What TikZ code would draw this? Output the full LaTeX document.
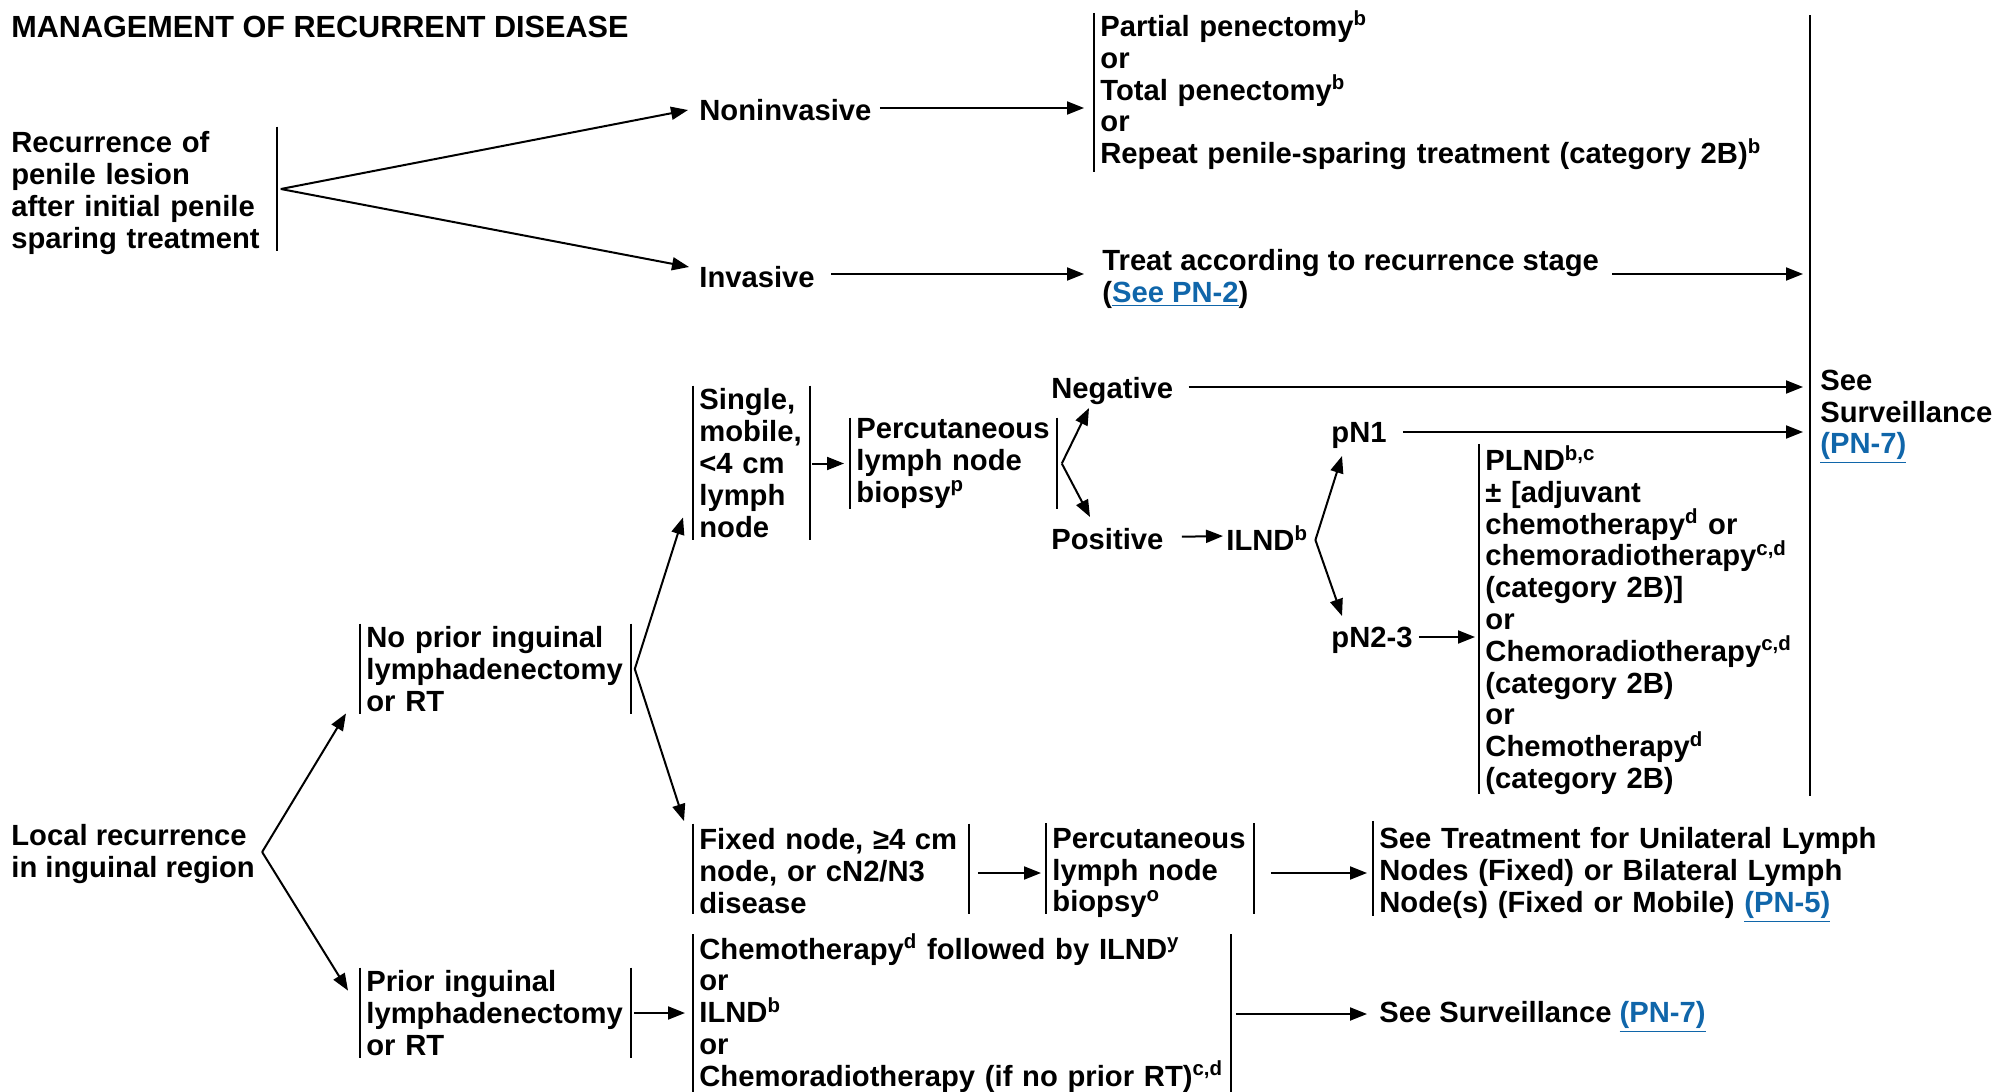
\documentclass[tikz,border=0pt]{standalone}
\usepackage{fontspec}
\setmainfont{Liberation Sans}
\usetikzlibrary{arrows.meta}
\definecolor{linkblue}{RGB}{16,102,170}
\newcommand\lnk[1]{\textcolor{linkblue}{\underline{#1}}}
\newcommand\sps[1]{\textsuperscript{#1}}
\begin{document}
\begin{tikzpicture}[x=0.5pt,y=-0.5pt,
  font=\fontsize{14.6}{15.9}\selectfont\bfseries,
  txt/.style={inner sep=0pt, anchor=west, align=left},
  blk/.style={inner xsep=3pt, inner ysep=0pt, anchor=west, align=left},
  arr/.style={-{Triangle[length=8.5pt,width=6.5pt]}, line width=1pt},
  bar/.style={line width=1pt}]
\useasboundingbox (0,0) rectangle (1997,1092);

% title
\node[txt, font=\fontsize{15.3}{16}\selectfont\bfseries] (title) at (11,27) {MANAGEMENT OF RECURRENT DISEASE};

% top part
\node[blk, text width=129.5pt, minimum height=62pt] (rec) at (5,193) {Recurrence of\\penile lesion\\after initial penile\\sparing treatment};
\draw[bar] ([yshift=2pt]rec.north east) -- ([yshift=2pt]rec.south east);
\coordinate (f1) at ([xshift=2pt,yshift=2pt]rec.east);

\node[txt] (noninv) at (699,110) {Noninvasive};
\node[txt] (inv) at (699,277) {Invasive};
\draw[arr] (f1) -- ([xshift=-5.5pt]noninv.west);
\draw[arr] (f1) -- ([xshift=-5pt,yshift=5pt]inv.west);

\node[blk, text width=340pt, minimum height=76.5pt] (opt) at (1094,90.5) {Partial penectomy\sps{b}\\or\\Total penectomy\sps{b}\\or\\Repeat penile-sparing treatment (category 2B)\sps{b}};
\draw[bar] ([yshift=-1pt]opt.north west) -- ([yshift=-1pt]opt.south west);
\draw[arr, shorten <=4pt, shorten >=5pt] ([yshift=1pt]noninv.east) -- ([yshift=1pt]opt.west |- noninv.east);

\node[txt] (treat) at (1102,279) {Treat according to recurrence stage\\(\lnk{See PN-2})};
\draw[arr, shorten <=8pt, shorten >=9pt] ([yshift=1.5pt]inv.east) -- ([yshift=1.5pt]treat.west |- inv.east);

% big bar and surveillance
\coordinate (bt) at (1810,15);
\coordinate (bb) at (1810,796);
\draw[bar] (bt) -- (bb);
\node[txt] (surv) at (1820,417) {See\\Surveillance\\\lnk{(PN-7)}};
\draw[arr, shorten <=6.5pt, shorten >=3.5pt] ([yshift=1.5pt]treat.east |- inv.east) -- ([yshift=1.5pt]bt |- inv.east);

% single node branch
\node[blk, text width=52pt, minimum height=77pt] (single) at (693,463) {Single,\\mobile,\\<4 cm\\lymph\\node};
\draw[bar] (single.north west) -- (single.south west) (single.north east) -- (single.south east);

\node[blk, text width=97pt, minimum height=45.5pt] (perc1) at (850,463.5) {Percutaneous\\lymph node\\biopsy\sps{p}};
\draw[bar] (perc1.north west) -- (perc1.south west) (perc1.north east) -- (perc1.south east);
\draw[arr, shorten <=1pt, shorten >=3pt] (single.east |- perc1.west) -- (perc1.west);
\coordinate (f2) at ([xshift=2.5pt]perc1.east);

\node[txt] (neg) at (1051,391) {Negative};
\node[txt] (pos) at (1051,539) {Positive};
\draw[arr] (f2) -- ([xshift=19pt,yshift=-8.5pt]neg.west);
\draw[arr] (f2) -- ([xshift=19.5pt,yshift=11pt]pos.west);
\draw[arr, shorten <=7.5pt, shorten >=3.5pt] ([yshift=2pt]neg.east) -- ([yshift=2pt]bt |- neg.east);

\node[txt] (ilnd) at (1226,538) {ILND\sps{b}};
\draw[arr, shorten <=9pt, shorten >=1.5pt] ([yshift=1pt]pos.east) -- ([yshift=1pt]ilnd.west);
\coordinate (f3) at ([xshift=3.5pt,yshift=-1pt]ilnd.east);

\node[txt] (pn1) at (1331,435) {pN1};
\node[txt] (pn23) at (1331,640) {pN2-3};
\draw[arr] (f3) -- ([xshift=5.5pt,yshift=-10.5pt]pn1.west);
\draw[arr] (f3) -- ([xshift=5.5pt,yshift=12pt]pn23.west);
\draw[arr, shorten <=8pt, shorten >=3.5pt] ([yshift=1.5pt]pn1.east) -- ([yshift=1.5pt]bt |- pn1.east);

\node[blk, text width=160pt, minimum height=173pt] (plnd) at (1479,620) {PLND\sps{b,c}\\± [adjuvant\\chemotherapy\sps{d} or\\chemoradiotherapy\sps{c,d}\\(category 2B)]\\or\\Chemoradiotherapy\sps{c,d}\\(category 2B)\\or\\Chemotherapy\sps{d}\\(category 2B)};
\draw[bar] ([yshift=0.5pt]plnd.north west) -- ([yshift=0.5pt]plnd.south west);
\draw[arr, shorten <=3pt, shorten >=2pt] ([yshift=1.5pt]pn23.east) -- ([yshift=1.5pt]plnd.west |- pn23.east);

% inguinal branch
\node[blk, text width=129pt, minimum height=45pt] (noprior) at (360,669) {No prior inguinal\\lymphadenectomy\\or RT};
\draw[bar] (noprior.north west) -- (noprior.south west) (noprior.north east) -- (noprior.south east);
\coordinate (f4) at ([xshift=2pt]noprior.east);

\node[blk, text width=131.5pt, minimum height=44.5pt] (fixed) at (693,871) {Fixed node, ≥4 cm\\node, or cN2/N3\\disease};
\draw[bar] ([yshift=1.2pt]fixed.north west) -- ([yshift=1.2pt]fixed.south west) ([yshift=1.2pt]fixed.north east) -- ([yshift=1.2pt]fixed.south east);

\draw[arr] (f4) -- ([xshift=-5pt,yshift=11.5pt]single.south west);
\draw[arr] (f4) -- ([xshift=-4.5pt,yshift=2.5pt]fixed.north west);

\node[txt] (loc) at (11,854) {Local recurrence\\in inguinal region};
\coordinate (f5) at ([xshift=3.5pt,yshift=1pt]loc.east);

\node[blk, text width=129pt, minimum height=45pt] (prior) at (360,1013) {Prior inguinal\\lymphadenectomy\\or RT};
\draw[bar] (prior.north west) -- (prior.south west) (prior.north east) -- (prior.south east);

\draw[arr] (f5) -- ([xshift=-7pt,yshift=0.5pt]noprior.south west);
\draw[arr] (f5) -- ([xshift=-6pt,yshift=-11.5pt]prior.north west);

\node[blk, text width=97.5pt, minimum height=44.5pt] (perc2) at (1046,873) {Percutaneous\\lymph node\\biopsy\sps{o}};
\draw[bar] ([yshift=2.2pt]perc2.north west) -- ([yshift=2.2pt]perc2.south west) ([yshift=2.2pt]perc2.north east) -- ([yshift=2.2pt]perc2.south east);
\draw[arr, shorten <=4.5pt, shorten >=2.5pt] ([yshift=-1pt]fixed.east) -- ([yshift=-1pt]perc2.west |- fixed.east);

\node[blk, text width=250pt, minimum height=44.5pt] (seetreat) at (1373,875) {See Treatment for Unilateral Lymph\\Nodes (Fixed) or Bilateral Lymph\\Node(s) (Fixed or Mobile) \lnk{(PN-5)}};
\draw[bar] ([yshift=3.2pt]seetreat.north west) -- ([yshift=3.2pt]seetreat.south west);
\draw[arr, shorten <=8.5pt, shorten >=3pt] ([yshift=-1pt]perc2.east |- fixed.east) -- ([yshift=-1pt]seetreat.west |- fixed.east);

\node[blk, text width=262.5pt, minimum height=78pt] (chemo) at (693,1013) {Chemotherapy\sps{d} followed by ILND\sps{y}\\or\\ILND\sps{b}\\or\\Chemoradiotherapy (if no prior RT)\sps{c,d}};
\draw[bar] ([yshift=-0.5pt]chemo.north west) -- ([yshift=-0.5pt]chemo.south west) ([yshift=-0.5pt]chemo.north east) -- ([yshift=-0.5pt]chemo.south east);
\draw[arr, shorten <=1.5pt, shorten >=4pt] (prior.east) -- (chemo.west |- prior.east);

\node[txt] (surv2) at (1379,1017) {See Surveillance \lnk{(PN-7)}};
\draw[arr, shorten <=2.5pt, shorten >=6pt] ([yshift=1.5pt]chemo.east |- surv2.west) -- ([yshift=1.5pt]surv2.west);
\end{tikzpicture}
\end{document}
